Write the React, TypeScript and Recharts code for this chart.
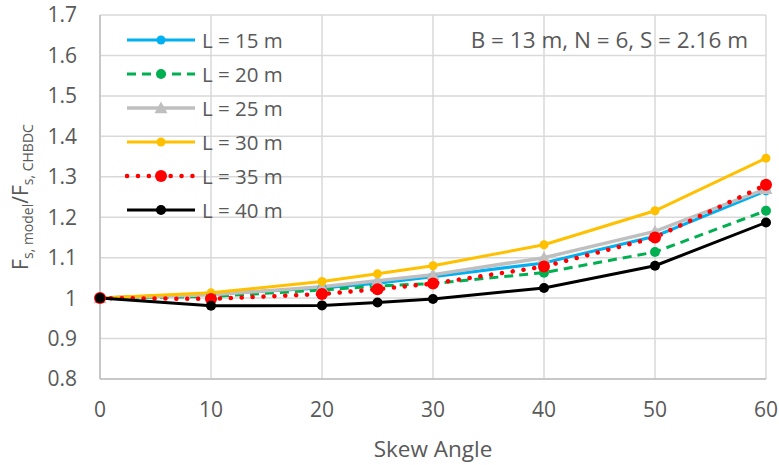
import React from 'react';
import {
  LineChart,
  Line,
  XAxis,
  YAxis,
  CartesianGrid,
  Legend,
  Label
} from 'recharts';

const skewAngles = [0, 10, 20, 25, 30, 40, 50, 60];
const l15 = [1, 1.01, 1.025, 1.037, 1.053, 1.087, 1.153, 1.265];
const l20 = [1, 1.004, 1.02, 1.03, 1.036, 1.063, 1.114, 1.216];
const l25 = [1, 1.008, 1.028, 1.043, 1.058, 1.1, 1.165, 1.27];
const l30 = [1, 1.013, 1.041, 1.06, 1.08, 1.132, 1.216, 1.346];
const l35 = [1, 0.998, 1.01, 1.022, 1.036, 1.078, 1.15, 1.28];
const l40 = [1, 0.981, 0.982, 0.989, 0.998, 1.025, 1.08, 1.187];

const xTicks = [0, 10, 20, 30, 40, 50, 60];
const yTicks = [0.8, 0.9, 1, 1.1, 1.2, 1.3, 1.4, 1.5, 1.6, 1.7];

const FONT = '"Open Sans", sans-serif';
const TEXT = '#595959';

type Series = {
  key: string;
  name: string;
  color: string;
  width: number;
  dash?: string;
  cap?: 'round' | 'butt';
  marker: 'circle' | 'triangle';
  r: number;
};

const series: Series[] = [
  { key: 'l15', name: 'L = 15 m', color: '#00B0F0', width: 3, marker: 'circle', r: 4.5 },
  { key: 'l20', name: 'L = 20 m', color: '#00B050', width: 3, dash: '9 6', marker: 'circle', r: 5 },
  { key: 'l25', name: 'L = 25 m', color: '#BFBFBF', width: 3.5, marker: 'triangle', r: 6.5 },
  { key: 'l30', name: 'L = 30 m', color: '#FFC000', width: 3, marker: 'circle', r: 4.5 },
  { key: 'l35', name: 'L = 35 m', color: '#FF0000', width: 4.5, dash: '0.1 10.8', cap: 'round', marker: 'circle', r: 6 },
  { key: 'l40', name: 'L = 40 m', color: '#000000', width: 3, marker: 'circle', r: 5 }
];

const data = skewAngles.map((skew, i) => ({
  skew,
  l15: l15[i],
  l20: l20[i],
  l25: l25[i],
  l30: l30[i],
  l35: l35[i],
  l40: l40[i]
}));

const Marker = ({ s, cx, cy }: { s: Series; cx: number; cy: number }) => {
  if (s.marker === 'triangle') {
    const r = s.r;
    return (
      <polygon
        points={`${cx},${cy - r} ${cx + r},${cy + r * 0.8} ${cx - r},${cy + r * 0.8}`}
        fill={s.color}
      />
    );
  }
  return <circle cx={cx} cy={cy} r={s.r} fill={s.color} />;
};

const renderLegend = () => (
  <div style={{ fontFamily: FONT, fontSize: 20.5, color: TEXT }}>
    {series.map((s) => (
      <div key={s.key} style={{ display: 'flex', alignItems: 'center', height: 34 }}>
        <svg width={72} height={20}>
          <line
            x1={2}
            y1={10}
            x2={70}
            y2={10}
            stroke={s.color}
            strokeWidth={s.width}
            strokeDasharray={s.dash}
            strokeLinecap={s.cap || 'butt'}
          />
          <Marker s={s} cx={36} cy={10} />
        </svg>
        <span style={{ marginLeft: 5 }}>{s.name}</span>
      </div>
    ))}
  </div>
);

const YLabel = () => (
  <text
    transform="translate(28, 197) rotate(-90)"
    textAnchor="middle"
    fontFamily={FONT}
    fontSize={21}
    fill={TEXT}
  >
    F
    <tspan fontSize={14} dy={5}>s, model</tspan>
    <tspan dy={-5}>/F</tspan>
    <tspan fontSize={14} dy={5}>s, CHBDC</tspan>
  </text>
);

export default function App() {
  return (
    <div style={{ position: 'absolute', left: 0, top: 0, width: 779, height: 465, background: '#fff' }}>
      <LineChart width={779} height={465} data={data} margin={{ top: 15, right: 13, bottom: 0, left: 0 }}>
        <CartesianGrid stroke="#d9d9d9" strokeWidth={1.5} />
        <XAxis
          dataKey="skew"
          type="number"
          domain={[0, 60]}
          ticks={xTicks}
          height={86}
          stroke="#bfbfbf"
          strokeWidth={1.5}
          tickLine={false}
          tickSize={0}
          tickMargin={23}
          tick={{ fill: TEXT, fontFamily: FONT, fontSize: 21 }}
        >
          <Label
            value="Skew Angle"
            position="insideBottom"
            offset={8}
            style={{ fill: TEXT, fontFamily: FONT, fontSize: 22.5 }}
          />
        </XAxis>
        <YAxis
          type="number"
          domain={[0.8, 1.7]}
          ticks={yTicks}
          width={100}
          stroke="#bfbfbf"
          strokeWidth={1.5}
          tickLine={false}
          tickSize={0}
          tickMargin={23}
          tick={{ fill: TEXT, fontFamily: FONT, fontSize: 21 }}
          label={<YLabel />}
        />
        <Legend
          layout="vertical"
          verticalAlign="middle"
          align="center"
          content={renderLegend}
          wrapperStyle={{ position: 'absolute', top: 23, left: 125, width: 220 }}
        />
        {series.map((s) => (
          <Line
            key={s.key}
            dataKey={s.key}
            name={s.name}
            type="linear"
            stroke={s.color}
            strokeWidth={s.width}
            strokeDasharray={s.dash}
            strokeLinecap={s.cap || 'butt'}
            isAnimationActive={false}
            dot={(p: any) => <Marker key={`${s.key}-${p.index}`} s={s} cx={p.cx} cy={p.cy} />}
            activeDot={false}
          />
        ))}
      </LineChart>
      <div
        style={{
          position: 'absolute',
          top: 25,
          right: 31,
          fontFamily: FONT,
          fontSize: 22.5,
          lineHeight: '30px',
          color: TEXT,
          whiteSpace: 'nowrap'
        }}
      >
        B = 13 m, N = 6, S = 2.16 m
      </div>
    </div>
  );
}
